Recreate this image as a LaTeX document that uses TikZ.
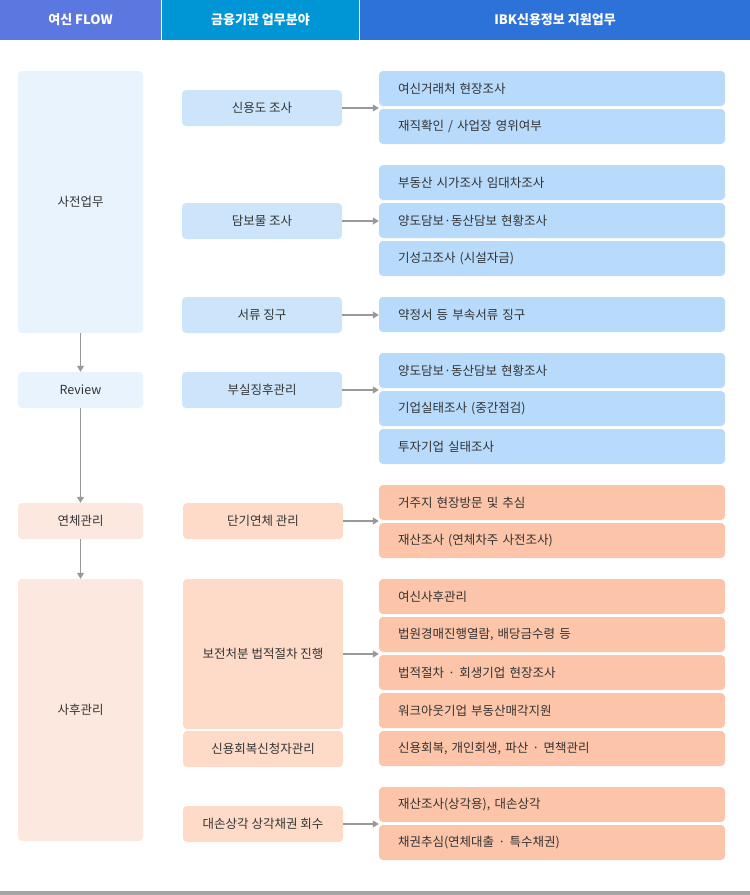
\documentclass[tikz,border=0pt]{standalone}
\usepackage{fontspec}
\setmainfont{Noto Sans CJK KR}
\usepackage{xcolor}
\usepackage{tikz}
\usetikzlibrary{arrows.meta}

\definecolor{hdrflow}{HTML}{5B78E0}
\definecolor{hdrbank}{HTML}{0096D6}
\definecolor{hdribk}{HTML}{2D72D8}
\definecolor{blueL}{HTML}{E8F3FE}
\definecolor{blueM}{HTML}{CCE5FB}
\definecolor{blueR}{HTML}{B8DAFB}
\definecolor{peachL}{HTML}{FDE8E0}
\definecolor{peachM}{HTML}{FDDBC8}
\definecolor{peachR}{HTML}{FCC4A8}
\definecolor{wire}{HTML}{999999}
\definecolor{ink}{HTML}{333333}
\definecolor{footbar}{HTML}{A6A6A6}

\begin{document}
\begin{tikzpicture}[x=1pt, y=-1pt,
		hdr/.style={shape=rectangle, minimum height=40pt, inner sep=0pt, text=white, font=\fontsize{13}{15}\selectfont\bfseries},
		box/.style={shape=rectangle, rounded corners=4pt, inner sep=0pt, text=ink, font=\fontsize{12.5}{15}\selectfont},
		flowbox/.style={box, minimum width=125pt},
		bankbox/.style={box, minimum width=160pt, minimum height=36pt},
		ibkbox/.style={box, minimum height=35pt, text width=308pt, inner xsep=19pt, align=left},
		wirearrow/.style={draw=wire, line width=1.2pt, -{Triangle[length=6pt, width=7pt]}}]
		\useasboundingbox (0, 0) rectangle (750, 895);
		% Header:
		\node[hdr, fill=hdrflow, minimum width=161pt](H1) at (80.5, 20){여신 FLOW};
		\node[hdr, fill=hdrbank, minimum width=197pt](H2) at (260.5, 20){금융기관 업무분야};
		\node[hdr, fill=hdribk, minimum width=390pt](H3) at (555, 20){IBK신용정보 지원업무};
		% Flow column:
		\node[flowbox, fill=blueL, minimum height=262pt](F1) at (80.5, 202){사전업무};
		\node[flowbox, fill=blueL, minimum height=36pt](F2) at (80.5, 390){Review};
		\node[flowbox, fill=peachL, minimum height=36pt](F3) at (80.5, 521){연체관리};
		\node[flowbox, fill=peachL, minimum height=262pt](F4) at (80.5, 710){사후관리};
		% Bank column:
		\node[bankbox, fill=blueM](B1) at (262, 108){신용도 조사};
		\node[bankbox, fill=blueM](B2) at (262, 221){담보물 조사};
		\node[bankbox, fill=blueM](B3) at (262, 315){서류 징구};
		\node[bankbox, fill=blueM](B4) at (262, 390){부실징후관리};
		\node[bankbox, fill=peachM](B5) at (263, 521){단기연체 관리};
		\node[bankbox, fill=peachM, minimum height=150pt](B6) at (263, 654){보전처분 법적절차 진행};
		\node[bankbox, fill=peachM](B7) at (263, 749){신용회복신청자관리};
		\node[bankbox, fill=peachM](B8) at (263, 824){대손상각 상각채권 회수};
		% IBK column:
		\node[ibkbox, fill=blueR](I1) at (552, 88.5){여신거래처 현장조사};
		\node[ibkbox, fill=blueR](I2) at (552, 126.5){재직확인 / 사업장 영위여부};
		\node[ibkbox, fill=blueR](I3) at (552, 182.5){부동산 시가조사 임대차조사};
		\node[ibkbox, fill=blueR](I4) at (552, 220.5){양도담보·동산담보 현황조사};
		\node[ibkbox, fill=blueR](I5) at (552, 258.5){기성고조사 (시설자금)};
		\node[ibkbox, fill=blueR](I6) at (552, 314.5){약정서 등 부속서류 징구};
		\node[ibkbox, fill=blueR](I7) at (552, 370.5){양도담보·동산담보 현황조사};
		\node[ibkbox, fill=blueR](I8) at (552, 408.5){기업실태조사 (중간점검)};
		\node[ibkbox, fill=blueR](I9) at (552, 446.5){투자기업 실태조사};
		\node[ibkbox, fill=peachR](I10) at (552, 502.5){거주지 현장방문 및 추심};
		\node[ibkbox, fill=peachR](I11) at (552, 540.5){재산조사 (연체차주 사전조사)};
		\node[ibkbox, fill=peachR](I12) at (552, 596.5){여신사후관리};
		\node[ibkbox, fill=peachR](I13) at (552, 634.5){법원경매진행열람, 배당금수령 등};
		\node[ibkbox, fill=peachR](I14) at (552, 672.5){법적절차 · 회생기업 현장조사};
		\node[ibkbox, fill=peachR](I15) at (552, 710.5){워크아웃기업 부동산매각지원};
		\node[ibkbox, fill=peachR](I16) at (552, 748.5){신용회복, 개인회생, 파산 · 면책관리};
		\node[ibkbox, fill=peachR](I17) at (552, 804.5){재산조사(상각용), 대손상각};
		\node[ibkbox, fill=peachR](I18) at (552, 842.5){채권추심(연체대출 · 특수채권)};
		% Flow arrows:
		\draw[wirearrow] (F1.south) -- (F2.north);
		\draw[wirearrow] (F2.south) -- (F3.north);
		\draw[wirearrow] (F3.south) -- (F4.north);
		% Bank to IBK arrows:
		\draw[wirearrow] (B1.east) -- (B1.east -| I1.west);
		\draw[wirearrow] (B2.east) -- (B2.east -| I4.west);
		\draw[wirearrow] (B3.east) -- (B3.east -| I6.west);
		\draw[wirearrow] (B4.east) -- (B4.east -| I7.west);
		\draw[wirearrow] (B5.east) -- (B5.east -| I10.west);
		\draw[wirearrow] (B6.east) -- (B6.east -| I13.west);
		\draw[wirearrow] (B8.east) -- (B8.east -| I17.west);
		% Footer:
		\fill[footbar] (0, 891) rectangle (750, 895);
	\end{tikzpicture}
\end{document}
